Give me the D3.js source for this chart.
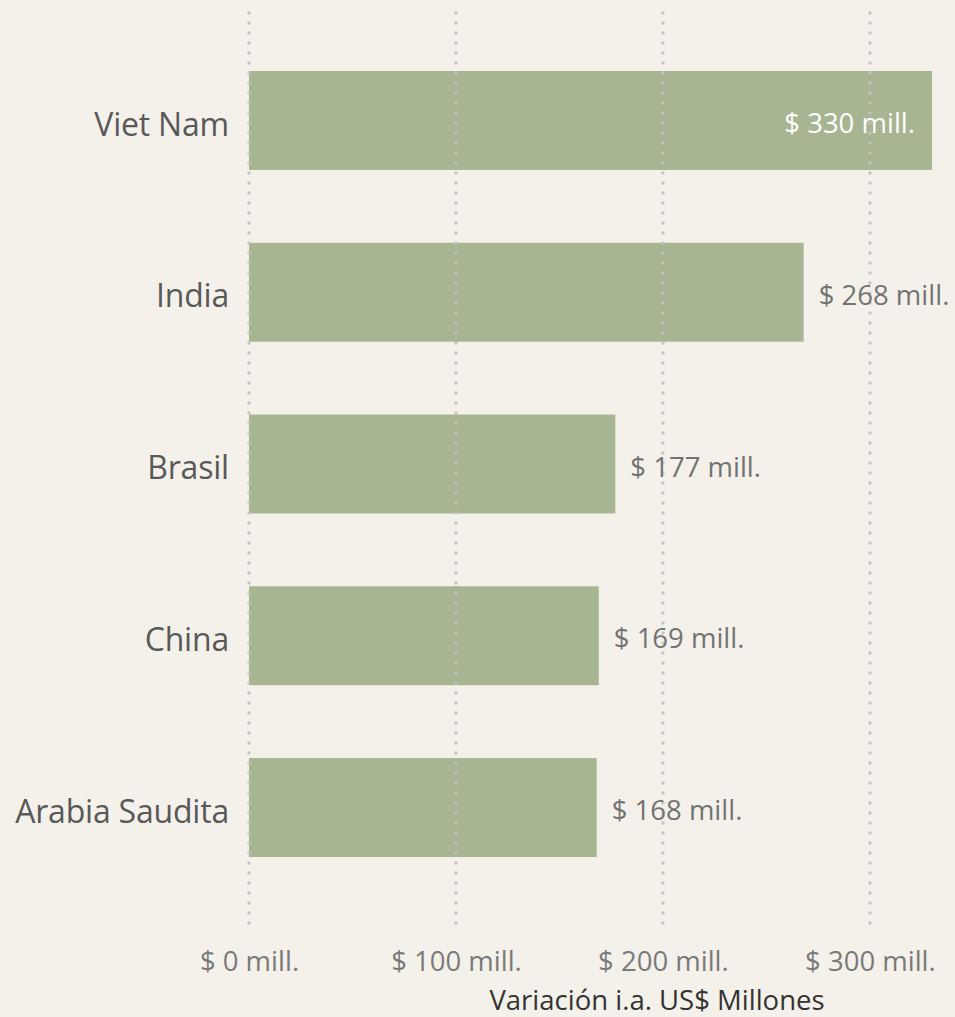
<!DOCTYPE html>
<html>
<head>
<meta charset="utf-8">
<script src="https://cdn.jsdelivr.net/npm/d3@7"></script>
<style>
  html, body { margin: 0; padding: 0; background: #f4f1ea; }
  svg { display: block; font-family: "Open Sans", "Noto Sans", sans-serif; }
</style>
</head>
<body>
<div id="chart_wrapper"></div>
<script>
var countries = ["Viet Nam", "India", "Brasil", "China", "Arabia Saudita"];
var values = [330, 268, 177, 169, 168];
var ticks = [0, 100, 200, 300];
var axisTitle = "Variación i.a. US$ Millones";

var width = 955,
    height = 1017;

var svg = d3.select("#chart_wrapper").append("svg")
    .attr("width", width)
    .attr("height", height);

svg.append("rect").attr("width", width).attr("height", height).attr("fill", "#f4f1ea");

var x = d3.scaleLinear().domain([0, 330]).range([249, 932]);
var y = d3.scaleBand().domain(countries).range([34.6, 893.4]).paddingInner(0.424).paddingOuter(0.212);

var data = countries.map(function(c, i) { return { name: c, value: values[i] }; });

// bars
svg.selectAll(".bar").data(data).enter().append("rect")
    .attr("class", "bar")
    .attr("x", x(0))
    .attr("y", function(d) { return y(d.name); })
    .attr("width", function(d) { return x(d.value) - x(0); })
    .attr("height", y.bandwidth())
    .attr("fill", "#a7b592");

// dotted grid, on top of bars
svg.append("g").selectAll("line").data(ticks).enter().append("line")
    .attr("x1", function(d) { return x(d); })
    .attr("x2", function(d) { return x(d); })
    .attr("y1", 13)
    .attr("y2", 930)
    .attr("stroke", "#c4c2bf")
    .attr("stroke-opacity", 0.9)
    .attr("stroke-width", 3.6)
    .attr("stroke-linecap", "round")
    .attr("stroke-dasharray", "0,10");

// category labels
svg.selectAll(".cat").data(data).enter().append("text")
    .attr("class", "cat")
    .attr("x", 229)
    .attr("y", function(d) { return y(d.name) + y.bandwidth() / 2 + 4; })
    .attr("dy", "0.35em")
    .attr("text-anchor", "end")
    .attr("fill", "#595959")
    .attr("font-size", "32px")
    .attr("letter-spacing", "-0.2px")
    .text(function(d) { return d.name; });

// value labels
svg.selectAll(".val").data(data).enter().append("text")
    .attr("class", "val")
    .attr("x", function(d, i) { return i === 0 ? x(d.value) - 17 : x(d.value) + 15; })
    .attr("y", function(d) { return y(d.name) + y.bandwidth() / 2 + 3; })
    .attr("dy", "0.35em")
    .attr("text-anchor", function(d, i) { return i === 0 ? "end" : "start"; })
    .attr("fill", function(d, i) { return i === 0 ? "#ffffff" : "#737373"; })
    .attr("font-size", "27.5px")
    .text(function(d) { return "$ " + d.value + " mill."; });

// x axis tick labels
var xAxis = d3.axisBottom(x).tickValues(ticks).tickSize(0).tickPadding(0)
    .tickFormat(function(d) { return "$ " + d + " mill."; });
var gx = svg.append("g").attr("transform", "translate(0,951)").call(xAxis);
gx.select(".domain").remove();
gx.selectAll("text")
    .attr("fill", "#7a7a7a")
    .attr("font-size", "27.5px")
    .attr("font-family", "Open Sans, Noto Sans, sans-serif");

// axis title
svg.append("text")
    .attr("x", 657)
    .attr("y", 1010)
    .attr("text-anchor", "middle")
    .attr("fill", "#333333")
    .attr("font-size", "27.5px")
    .text(axisTitle);
</script>
</body>
</html>
